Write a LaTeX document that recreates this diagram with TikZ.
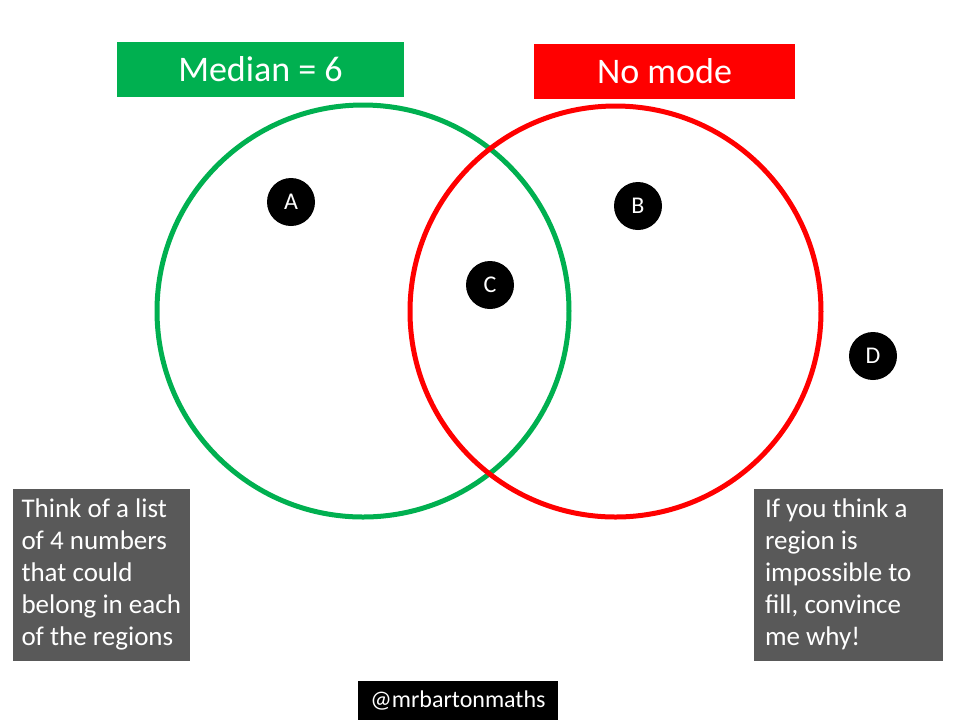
\documentclass[tikz,border=0pt]{standalone}
\usepackage{fontspec}
\setmainfont{Carlito}
\usetikzlibrary{positioning}
\definecolor{setgreen}{HTML}{00B050}
\definecolor{setred}{HTML}{FF0000}
\definecolor{notegray}{HTML}{595959}

\begin{document}
\begin{tikzpicture}[x=0.5pt,y=-0.5pt, every node/.style={text=white},
  title/.style={minimum height=27.5pt,inner sep=0pt,font=\fontsize{18}{22}\selectfont},
  ring/.style={draw,circle,line width=2.5pt,minimum size=206pt,inner sep=0pt},
  dot/.style={circle,fill=black,minimum size=24pt,inner sep=0pt,font=\fontsize{12}{14}\selectfont},
  note/.style={fill=notegray,align=flush left,minimum height=86pt,font=\fontsize{13.5}{16}\selectfont}]
\fill[white] (0,0) rectangle (960,720);
\node[title,fill=setgreen,minimum width=143.5pt] (median) at (260.5,69.5) {Median = 6};
\node[title,fill=setred,minimum width=130.5pt] (nomode) at (664.5,71.5) {No mode};
\node[ring,draw=setgreen] (setA) at (363,311) {};
\node[ring,draw=setred,minimum size=205.5pt] (setB) at (615.5,311.5) {};
\node[dot] (a) at (291,202) {A};
\node[dot] (b) at (638,206) {B};
\node[dot] (c) at (490,285) {C};
\node[dot] (d) at (873,356) {D};
\node[note,text width=80pt,inner xsep=4.25pt] (think) at (101.5,574.5) {Think of a list\\of 4 numbers\\that could\\belong in each\\of the regions};
\node[note,text width=83.5pt,inner xsep=5.5pt] (why) at (848.5,574.5) {If you think a\\region is\\impossible to\\fill, convince\\me why!};
\node[fill=black,minimum width=100pt,minimum height=19.5pt,inner sep=0pt,font=\fontsize{12}{14}\selectfont] (handle) at (458,700.5) {@mrbartonmaths};
\end{tikzpicture}
\end{document}
